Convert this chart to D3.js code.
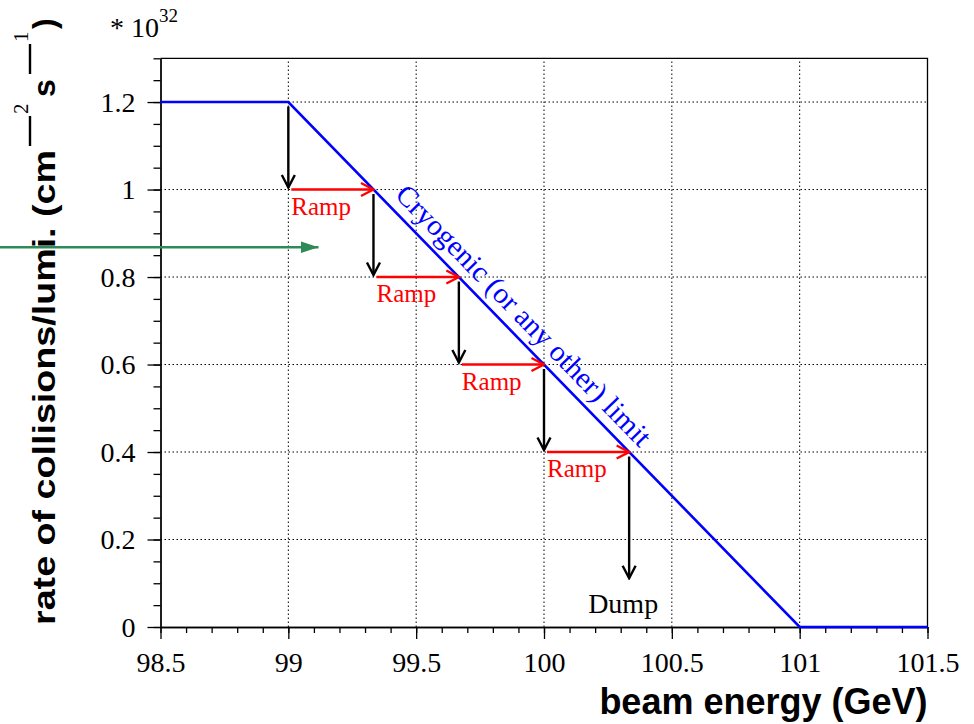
<!DOCTYPE html>
<html>
<head>
<meta charset="utf-8">
<script src="https://cdn.jsdelivr.net/npm/d3@7"></script>
<style>
  html, body { margin: 0; padding: 0; background: #fff; }
  svg { display: block; }
  .tick text { font-family: "Liberation Serif", "Times New Roman", serif; }
</style>
</head>
<body>
<div id="chart"></div>
<script>
/* ── Data ─────────────────────────────────────────────────────────────── */
const xTicks      = [98.5, 99, 99.5, 100, 100.5, 101, 101.5];
const xTickLabels = ['98.5', '99', '99.5', '100', '100.5', '101', '101.5'];
const yTicks      = [0, 0.2, 0.4, 0.6, 0.8, 1.0, 1.2];
const yTickLabels = ['0', '0.2', '0.4', '0.6', '0.8', '1', '1.2'];

// cryogenic limit (blue)
const limitX = [98.5, 99, 101, 101.5];
const limitY = [1.2, 1.2, 0, 0];

// operating steps: drop in lumi, then ramp in energy up to the limit
const stepX = [99, 99.333, 99.667, 100, 100.333];
const stepY = [1.2, 1.0, 0.8, 0.6, 0.4];
const dumpY = 0.107;

// green marker arrow
const markX = [97.87, 99.118];
const markY = 0.868;

/* ── Layout ───────────────────────────────────────────────────────────── */
const W = 974, H = 724;
const mLeft = 160.5, mRight = 927.5, mTop = 58.3, mBottom = 627;
const BLUE = '#0000ff', RED = '#ff0000', GREEN = '#2e8b57';
const SERIF = '"Liberation Serif", "Times New Roman", serif';
const SANS  = '"Liberation Sans", Arial, sans-serif';

const svg = d3.select('#chart').append('svg')
  .attr('width', W).attr('height', H);

const x = d3.scaleLinear().domain([98.5, 101.5]).range([mLeft, mRight]);
const y = d3.scaleLinear().domain([0, 1.3]).range([mBottom, mTop]);

const defs = svg.append('defs');
function openHead(id, color) {
  defs.append('marker')
    .attr('id', id)
    .attr('viewBox', '-15 -9 17 18')
    .attr('refX', 0).attr('refY', 0)
    .attr('markerWidth', 17).attr('markerHeight', 18)
    .attr('markerUnits', 'userSpaceOnUse')
    .attr('orient', 'auto')
    .append('path')
      .attr('d', 'M-12.5,-6.5 L0,0 L-12.5,6.5')
      .attr('fill', 'none')
      .attr('stroke', color)
      .attr('stroke-width', 2.4);
}
openHead('headBlack', '#000');
openHead('headRed', RED);
defs.append('marker')
  .attr('id', 'headGreen')
  .attr('viewBox', '-18 -7 19 14')
  .attr('refX', 0).attr('refY', 0)
  .attr('markerWidth', 19).attr('markerHeight', 14)
  .attr('markerUnits', 'userSpaceOnUse')
  .attr('orient', 'auto')
  .append('path')
    .attr('d', 'M-18,-6 L0,0 L-18,6 Z')
    .attr('fill', GREEN);

/* ── Grid ─────────────────────────────────────────────────────────────── */
const grid = svg.append('g')
  .attr('stroke', '#000').attr('stroke-width', 1)
  .attr('stroke-dasharray', '1.5,2.5');
grid.selectAll('.gx')
  .data(xTicks.filter(d => d > 98.5 && d < 101.5))
  .join('line')
    .attr('x1', d => x(d)).attr('x2', d => x(d))
    .attr('y1', mBottom).attr('y2', mTop);
grid.selectAll('.gy')
  .data(yTicks.filter(d => d > 0))
  .join('line')
    .attr('x1', mLeft).attr('x2', mRight)
    .attr('y1', d => y(d)).attr('y2', d => y(d));

/* ── Axes ─────────────────────────────────────────────────────────────── */
const xMinor = d3.range(98.5, 101.5001, 0.1);
const yMinor = d3.range(0, 1.3001, 0.05);

function styleAxis(g) {
  g.attr('font-family', SERIF).attr('font-size', 28);
  g.selectAll('line, path').attr('stroke', '#000').attr('stroke-width', 1.3);
}

svg.append('g')
  .attr('transform', `translate(0,${mBottom})`)
  .call(d3.axisBottom(x).tickValues(xMinor).tickSize(6).tickSizeOuter(0).tickFormat(''))
  .call(styleAxis);
svg.append('g')
  .attr('transform', `translate(${mLeft},0)`)
  .call(d3.axisLeft(y).tickValues(yMinor).tickSize(7).tickSizeOuter(0).tickFormat(''))
  .call(styleAxis);

const gx = svg.append('g')
  .attr('transform', `translate(0,${mBottom})`)
  .call(d3.axisBottom(x).tickValues(xTicks).tickSize(12).tickSizeOuter(0)
    .tickFormat((d, i) => xTickLabels[i]))
  .call(styleAxis);
gx.selectAll('text')
  .attr('dy', null).attr('y', 45)
  .attr('fill', '#000');

const gy = svg.append('g')
  .attr('transform', `translate(${mLeft},0)`)
  .call(d3.axisLeft(y).tickValues(yTicks).tickSize(13).tickSizeOuter(0).tickPadding(12)
    .tickFormat((d, i) => yTickLabels[i]))
  .call(styleAxis);
gy.selectAll('text')
  .attr('dy', '0.33em')
  .attr('fill', '#000');

// frame top / right
svg.append('path')
  .attr('d', `M${mLeft},${mTop}H${mRight}V${mBottom}`)
  .attr('fill', 'none').attr('stroke', '#000').attr('stroke-width', 1.3);

/* ── Limit line ───────────────────────────────────────────────────────── */
const lineGen = d3.line().x(d => x(d[0])).y(d => y(d[1]));
svg.append('path')
  .datum(limitX.map((v, i) => [v, limitY[i]]))
  .attr('d', lineGen)
  .attr('fill', 'none').attr('stroke', BLUE).attr('stroke-width', 2.6);

// label along the slope
const p0 = [x(limitX[1]), y(limitY[1])];
const p1 = [x(limitX[2]), y(limitY[2])];
const ang = Math.atan2(p1[1] - p0[1], p1[0] - p0[0]) * 180 / Math.PI;
const labX = 99.385;
const labY = limitY[1] + (labX - limitX[1]) * (limitY[2] - limitY[1]) / (limitX[2] - limitX[1]);
svg.append('text')
  .attr('transform', `translate(${x(labX)},${y(labY)}) rotate(${ang})`)
  .attr('y', -10)
  .attr('textLength', 352).attr('lengthAdjust', 'spacingAndGlyphs')
  .style('font-family', SERIF).style('font-size', '29px')
  .attr('fill', BLUE)
  .text('Cryogenic (or any other) limit');

/* ── Steps ────────────────────────────────────────────────────────────── */
const drops = stepX.map((sx, i) => ({
  x: sx, y0: stepY[i], y1: i < stepX.length - 1 ? stepY[i + 1] : dumpY
}));
svg.selectAll('.drop')
  .data(drops)
  .join('line')
    .attr('x1', d => x(d.x)).attr('x2', d => x(d.x))
    .attr('y1', d => y(d.y0) + 4.5).attr('y2', d => y(d.y1) - 2)
    .attr('stroke', '#000').attr('stroke-width', 2.4)
    .attr('marker-end', 'url(#headBlack)');

const ramps = stepX.slice(0, -1).map((sx, i) => ({
  x0: sx, x1: stepX[i + 1], y: stepY[i + 1]
}));
svg.selectAll('.ramp')
  .data(ramps)
  .join('line')
    .attr('x1', d => x(d.x0) + 3).attr('x2', d => x(d.x1))
    .attr('y1', d => y(d.y)).attr('y2', d => y(d.y))
    .attr('stroke', RED).attr('stroke-width', 2.4)
    .attr('marker-end', 'url(#headRed)');
svg.selectAll('.ramp-label')
  .data(ramps)
  .join('text')
    .attr('x', d => x(d.x0) + 3)
    .attr('y', d => y(d.y) + 25)
    .style('font-family', SERIF).style('font-size', '25px')
    .attr('fill', RED)
    .text('Ramp');

svg.append('text')
  .attr('x', x(stepX[stepX.length - 1]))
  .attr('y', mBottom - 14)
  .attr('text-anchor', 'middle')
  .attr('dx', -6)
  .style('font-family', SERIF).style('font-size', '28px')
  .attr('fill', '#000')
  .text('Dump');

/* ── Axis titles ──────────────────────────────────────────────────────── */
svg.append('text')
  .attr('x', mRight).attr('y', 714)
  .attr('text-anchor', 'end')
  .style('font-family', SANS).style('font-size', '36px').style('font-weight', 'bold')
  .text('beam energy (GeV)');

const yl = svg.append('g').attr('transform', 'translate(55,625) rotate(-90)');
yl.append('text')
  .attr('textLength', 475).attr('lengthAdjust', 'spacingAndGlyphs')
  .style('font-family', SANS).style('font-size', '32px').style('font-weight', 'bold')
  .text('rate of collisions/lumi. (cm');
yl.append('line').attr('x1', 479).attr('x2', 509).attr('y1', -25).attr('y2', -25)
  .attr('stroke', '#000').attr('stroke-width', 2.4);
yl.append('text').attr('x', 511).attr('y', -27)
  .style('font-family', SERIF).style('font-size', '21px').text('2');
yl.append('text').attr('x', 528).attr('y', 0)
  .style('font-family', SANS).style('font-size', '32px').style('font-weight', 'bold').text('s');
yl.append('line').attr('x1', 551).attr('x2', 581).attr('y1', -25).attr('y2', -25)
  .attr('stroke', '#000').attr('stroke-width', 2.4);
yl.append('text').attr('x', 583).attr('y', -27)
  .style('font-family', SERIF).style('font-size', '21px').text('1');
yl.append('text').attr('x', 596).attr('y', 0)
  .style('font-family', SANS).style('font-size', '32px').style('font-weight', 'bold').text(')');

// exponent
const ex = svg.append('text').attr('x', 110).attr('y', 37)
  .style('font-family', SERIF).style('font-size', '28px');
ex.append('tspan').text('* 10');
ex.append('tspan').attr('dy', -15).style('font-size', '19px').text('32');

/* ── Green marker ─────────────────────────────────────────────────────── */
svg.append('line')
  .attr('x1', x(markX[0])).attr('x2', x(markX[1]))
  .attr('y1', y(markY)).attr('y2', y(markY))
  .attr('stroke', GREEN).attr('stroke-width', 2.6)
  .attr('marker-end', 'url(#headGreen)');
</script>
</body>
</html>
